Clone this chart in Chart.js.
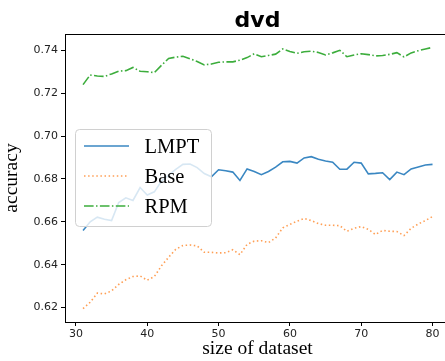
<!DOCTYPE html>
<html><head><meta charset="utf-8">
<script src="https://cdn.jsdelivr.net/npm/chart.js@4.4.1/dist/chart.umd.min.js"></script>
<style>html,body{margin:0;padding:0;overflow:hidden;background:#fff;width:445px;height:361px}canvas{display:block}</style>
</head><body><canvas id="c" width="452" height="361" style="width:452px;height:361px"></canvas>
<script>
const chartTitle = 'dvd';
const xLabel = 'size of dataset';
const yLabel = 'accuracy';
const seriesNames = ['LMPT', 'Base', 'RPM'];
const sizes = [31,32,33,34,35,36,37,38,39,40,41,42,43,44,45,46,47,48,49,50,
               51,52,53,54,55,56,57,58,59,60,61,62,63,64,65,66,67,68,69,70,
               71,72,73,74,75,76,77,78,79,80];
const lmpt = [0.6560,0.6600,0.6622,0.6612,0.6606,0.6690,0.6712,0.6700,0.6760,0.6725,
              0.6740,0.6790,0.6818,0.6845,0.6868,0.6870,0.6853,0.6825,0.6810,0.6843,
              0.6838,0.6832,0.6793,0.6847,0.6835,0.6820,0.6835,0.6855,0.6880,0.6882,
              0.6874,0.6898,0.6904,0.6892,0.6884,0.6878,0.6845,0.6846,0.6878,0.6874,
              0.6824,0.6826,0.6829,0.6797,0.6832,0.6820,0.6847,0.6856,0.6865,0.6868];
const base = [0.6195,0.6225,0.6268,0.6264,0.6278,0.6308,0.6330,0.6345,0.6348,0.6328,
              0.6345,0.6395,0.6435,0.6472,0.6490,0.6492,0.6488,0.6458,0.6458,0.6455,
              0.6456,0.6470,0.6447,0.6495,0.6510,0.6512,0.6503,0.6525,0.6572,0.6588,
              0.6603,0.6616,0.6606,0.6592,0.6584,0.6584,0.6582,0.6556,0.6570,0.6578,
              0.6565,0.6541,0.6560,0.6556,0.6555,0.6536,0.6570,0.6590,0.6606,0.6625];
const rpm = [0.7240,0.7285,0.7280,0.7278,0.7290,0.7303,0.7305,0.7320,0.7302,0.7300,
             0.7296,0.7330,0.7362,0.7368,0.7372,0.7360,0.7348,0.7332,0.7336,0.7344,
             0.7346,0.7346,0.7354,0.7366,0.7384,0.7370,0.7376,0.7382,0.7406,0.7394,
             0.7386,0.7393,0.7396,0.7390,0.7378,0.7388,0.7400,0.7370,0.7378,0.7384,
             0.7380,0.7374,0.7376,0.7381,0.7389,0.7369,0.7388,0.7398,0.7406,0.7414];
const xTicks = [30, 40, 50, 60, 70, 80];
const yTicks = [0.62, 0.64, 0.66, 0.68, 0.70, 0.72, 0.74];

const colors = ['#3a87c2', '#ff9f55', '#3cad3c'];
const dashes = [[], [1.5, 2.6], [9.6, 2.4, 1.5, 2.4]];
const values = [lmpt, base, rpm];

const deco = {
  id: 'deco',
  afterDraw(chart) {
    const ctx = chart.ctx, a = chart.chartArea;
    ctx.save();
    ctx.strokeStyle = '#000'; ctx.lineWidth = 1;
    ctx.beginPath(); ctx.moveTo(a.left, a.top + 0.5); ctx.lineTo(a.right, a.top + 0.5); ctx.stroke();
    ctx.beginPath(); ctx.moveTo(a.right - 0.5, a.top); ctx.lineTo(a.right - 0.5, a.bottom); ctx.stroke();
    ctx.fillStyle = '#000';
    ctx.font = 'bold 22px "DejaVu Sans"';
    ctx.textAlign = 'center'; ctx.textBaseline = 'alphabetic';
    ctx.fillText(chartTitle, (a.left + a.right) / 2, 26.5);
    // legend
    const bx = 75.5, by = 129, bw = 136, bh = 97;
    ctx.beginPath();
    ctx.roundRect(bx, by + 0.5, bw, bh, 4);
    ctx.fillStyle = 'rgba(255,255,255,0.8)'; ctx.fill();
    ctx.strokeStyle = '#d0d0d0'; ctx.stroke();
    const rows = [146, 176, 206];
    ctx.font = '20.5px "Liberation Serif"';
    ctx.textAlign = 'left'; ctx.textBaseline = 'alphabetic';
    chart.data.datasets.forEach((ds, i) => {
      ctx.strokeStyle = ds.borderColor; ctx.lineWidth = 1.6;
      ctx.setLineDash(ds.borderDash || []);
      ctx.beginPath(); ctx.moveTo(84, rows[i]); ctx.lineTo(129, rows[i]); ctx.stroke();
      ctx.setLineDash([]);
      ctx.fillStyle = '#000';
      ctx.fillText(ds.label, 144.5, rows[i] + 6.5);
    });
    ctx.restore();
  }
};

new Chart(document.getElementById('c'), {
  type: 'line',
  data: {
    datasets: seriesNames.map((n, i) => ({
      label: n,
      data: sizes.map((s, k) => ({x: s, y: values[i][k]})),
      borderColor: colors[i],
      borderWidth: 1.6,
      borderDash: dashes[i],
      pointRadius: 0,
      tension: 0,
      fill: false
    }))
  },
  options: {
    responsive: false,
    animation: false,
    layout: {padding: {left: 0, right: 2, top: 34, bottom: 0}},
    plugins: {legend: {display: false}, title: {display: false}, tooltip: {enabled: false}},
    scales: {
      x: {
        type: 'linear', min: 28.47, max: 82.45,
        afterBuildTicks: s => { s.ticks = xTicks.map(v => ({value: v})); },
        afterFit: s => { s.height = 39; },
        grid: {display: true, drawOnChartArea: false, drawTicks: true, tickLength: 4, tickColor: '#000', tickWidth: 1},
        border: {display: true, color: '#000', width: 1},
        ticks: {font: {family: 'DejaVu Sans', size: 11}, color: '#222', padding: 2, maxRotation: 0, callback: v => String(v)},
        title: {display: true, text: xLabel, font: {family: 'Liberation Serif', size: 19.5}, color: '#000', padding: 0}
      },
      y: {
        type: 'linear', min: 0.6133, max: 0.7476,
        afterBuildTicks: s => { s.ticks = yTicks.map(v => ({value: v})); },
        afterFit: s => { s.width = 65; },
        grid: {display: true, drawOnChartArea: false, drawTicks: true, tickLength: 4, tickColor: '#000', tickWidth: 1},
        border: {display: true, color: '#000', width: 1},
        ticks: {font: {family: 'DejaVu Sans', size: 11}, color: '#222', padding: 3, callback: v => v.toFixed(2)},
        title: {display: true, text: yLabel, font: {family: 'Liberation Serif', size: 19.5}, color: '#000', padding: 0}
      }
    }
  },
  plugins: [deco]
});
</script></body></html>
